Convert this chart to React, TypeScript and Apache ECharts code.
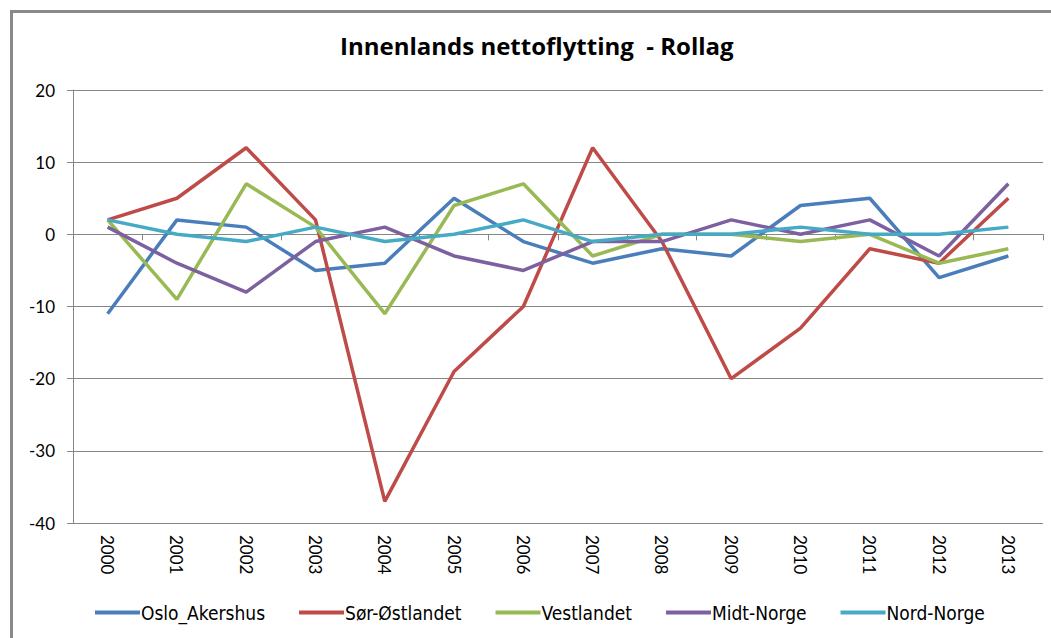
import React, { useEffect, useRef } from "react";
import * as echarts from "echarts";

const years = ["2000","2001","2002","2003","2004","2005","2006","2007","2008","2009","2010","2011","2012","2013"];
const osloAkershus = [-11, 2, 1, -5, -4, 5, -1, -4, -2, -3, 4, 5, -6, -3];
const sorOstlandet = [2, 5, 12, 2, -37, -19, -10, 12, -1, -20, -13, -2, -4, 5];
const vestlandet = [2, -9, 7, 1, -11, 4, 7, -3, 0, 0, -1, 0, -4, -2];
const midtNorge = [1, -4, -8, -1, 1, -3, -5, -1, -1, 2, 0, 2, -3, 7];
const nordNorge = [2, 0, -1, 1, -1, 0, 2, -1, 0, 0, 1, 0, 0, 1];

const seriesNames = ["Oslo_Akershus", "Sør-Østlandet", "Vestlandet", "Midt-Norge", "Nord-Norge"];
const seriesData = [osloAkershus, sorOstlandet, vestlandet, midtNorge, nordNorge];
const colors = ["#4A7EBB", "#BE4B48", "#98B954", "#7D60A0", "#46AAC5"];

export default function App() {
  const ref = useRef<HTMLDivElement>(null);
  useEffect(() => {
    const chart = echarts.init(ref.current!, null, { renderer: "svg" });
    const axisFont = "Lato, 'Open Sans', sans-serif";
    chart.setOption({
      animation: false,
      backgroundColor: "#ffffff",
      title: {
        text: "Innenlands nettoflytting  - Rollag",
        left: 340,
        top: 33,
        padding: 0,
        textStyle: { fontFamily: "'Open Sans', Lato, sans-serif", fontWeight: "bold", fontSize: 24, color: "#000" },
      },
      graphic: [
        {
          type: "rect",
          shape: { x: 11.5, y: 11.5, width: 1100, height: 700 },
          style: { fill: "none", stroke: "#898989", lineWidth: 3 },
          silent: true,
        },
      ],
      grid: { left: 73, right: 8, top: 90, bottom: 115, containLabel: false },
      legend: {
        top: 603,
        left: 95,
        padding: 0,
        itemWidth: 45,
        itemHeight: 4,
        itemGap: 34,
        icon: "rect",
        textStyle: { fontFamily: "'DejaVu Sans Condensed', 'Liberation Sans Narrow', sans-serif", fontSize: 19, color: "#000", padding: [0, 0, 0, -4] },
        data: seriesNames,
      },
      xAxis: [
        {
          type: "category",
          data: years,
          boundaryGap: true,
          axisLine: { onZero: true, lineStyle: { color: "#868686", width: 1 } },
          axisTick: { show: true, length: 6, lineStyle: { color: "#868686" } },
          axisLabel: { show: false },
        },
        {
          type: "category",
          data: years,
          position: "bottom",
          boundaryGap: true,
          axisLine: { show: false, onZero: false },
          axisTick: { show: false },
          axisLabel: { rotate: -90, margin: 12, fontFamily: axisFont, fontSize: 17, color: "#000" },
        },
      ],
      yAxis: {
        type: "value",
        min: -40,
        max: 20,
        interval: 10,
        axisLine: { show: true, lineStyle: { color: "#868686", width: 1 } },
        axisTick: { show: true, length: 6, lineStyle: { color: "#868686" } },
        splitLine: { lineStyle: { color: "#868686", width: 1 } },
        axisLabel: { fontFamily: axisFont, fontSize: 17, color: "#000", margin: 18 },
      },
      series: seriesNames.map((name, i) => ({
        name,
        type: "line",
        xAxisIndex: 0,
        data: seriesData[i],
        symbol: "none",
        lineStyle: { width: 3.5, color: colors[i] },
        itemStyle: { color: colors[i] },
      })),
    });
    return () => chart.dispose();
  }, []);
  return <div ref={ref} style={{ position: "fixed", left: 0, top: 0, width: 1051, height: 638 }} />;
}
